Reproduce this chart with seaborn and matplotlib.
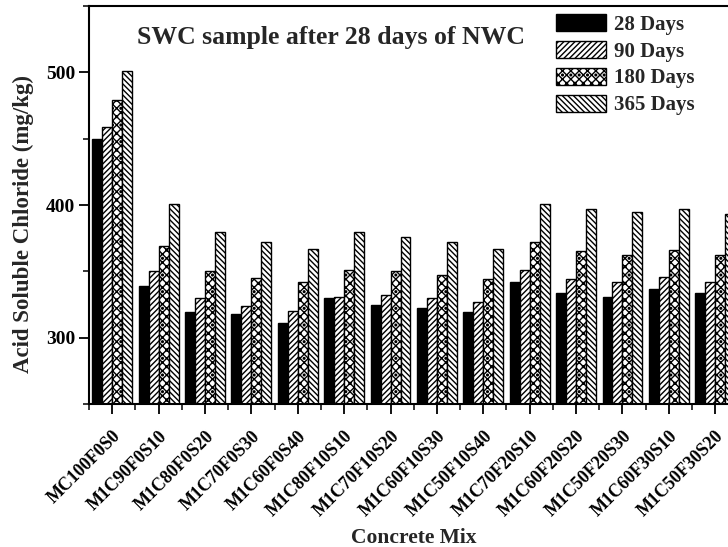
import matplotlib
matplotlib.use("Agg")
import matplotlib.pyplot as plt
from matplotlib.ticker import MultipleLocator, FixedLocator
import numpy as np
import pandas as pd
import seaborn as sns

mixes = ["MC100F0S0", "M1C90F0S10", "M1C80F0S20", "M1C70F0S30", "M1C60F0S40",
         "M1C80F10S10", "M1C70F10S20", "M1C60F10S30", "M1C50F10S40",
         "M1C70F20S10", "M1C60F20S20", "M1C50F20S30", "M1C60F30S10", "M1C50F30S20"]
ages = ["28 Days", "90 Days", "180 Days", "365 Days"]

days28 = [450, 339, 319, 318, 311, 330, 325, 322, 319, 342, 334, 331, 337, 334]
days90 = [459, 350, 330, 324, 320, 331, 332, 330, 327, 351, 344, 342, 346, 342]
days180 = [479, 369, 350, 345, 342, 351, 350, 347, 344, 372, 365, 362, 366, 362]
days365 = [501, 401, 380, 372, 367, 380, 376, 372, 367, 401, 397, 395, 397, 393]

df = pd.DataFrame({
    "Concrete Mix": mixes * 4,
    "Age": np.repeat(ages, len(mixes)),
    "Chloride": days28 + days90 + days180 + days365,
})

sns.set_theme(style="ticks")
plt.rcParams["font.family"] = ["Liberation Serif", "DejaVu Serif"]
plt.rcParams["font.weight"] = "bold"
plt.rcParams["hatch.linewidth"] = 1.0

fig = plt.figure(figsize=(7.28, 5.47), dpi=100)
ax = fig.add_axes([0.1223, 0.2614, 0.892, 0.7276])

sns.barplot(data=df, x="Concrete Mix", y="Chloride", hue="Age",
            palette=["black", "white", "white", "white"], width=0.86,
            edgecolor="black", linewidth=1.0, ax=ax, legend=False)

# solid, forward hatch, dotted cross-hatch, back hatch
hatches = [None, "//////", "xxxx..", "\\\\\\\\\\\\"]
for cont, h in zip(ax.containers, hatches):
    for bar in cont:
        if h:
            bar.set_hatch(h)

ax.set_ylim(250, 550)
ax.set_xlim(-0.5, len(mixes) - 0.5)
ax.yaxis.set_major_locator(FixedLocator([300, 400, 500]))
ax.yaxis.set_minor_locator(MultipleLocator(50))
ax.xaxis.set_minor_locator(FixedLocator(np.arange(-0.5, len(mixes), 1.0)))

ax.tick_params(axis="y", which="major", direction="out", length=7, width=1.3,
               labelsize=14, pad=3, colors="black")
ax.tick_params(axis="x", which="major", direction="out", length=7, width=1.3,
               pad=10, colors="black")
ax.tick_params(axis="both", which="minor", direction="out", length=4, width=1.3)
ax.set_xticks(range(len(mixes)))
ax.set_xticklabels(mixes, rotation=45, ha="right", rotation_mode="anchor",
                   fontsize=13, fontweight="bold")
for lab in ax.get_yticklabels():
    lab.set_fontweight("bold")

for side in ["left", "top", "bottom", "right"]:
    ax.spines[side].set_visible(True)
    ax.spines[side].set_linewidth(1.5)
    ax.spines[side].set_color("black")

ax.set_xlabel("Concrete Mix", fontsize=15.5, fontweight="bold", labelpad=6)
ax.set_ylabel("Acid Soluble Chloride (mg/kg)", fontsize=16.5, fontweight="bold")
ax.yaxis.set_label_coords(-0.084, 0.452)

ax.text(0.373, 0.922, "SWC sample after 28 days of NWC", transform=ax.transAxes,
        ha="center", va="center", fontsize=18.5, fontweight="bold")

handles = [cont.patches[0] for cont in ax.containers]
leg = ax.legend(handles, ages, loc="upper left", bbox_to_anchor=(0.7196, 0.980),
                frameon=False, fontsize=15, handlelength=2.4, handleheight=0.87,
                handletextpad=0.35, labelspacing=0.3, borderaxespad=0.0,
                borderpad=0.0)
for t in leg.get_texts():
    t.set_fontweight("bold")

fig.savefig("out.png", dpi=100)
